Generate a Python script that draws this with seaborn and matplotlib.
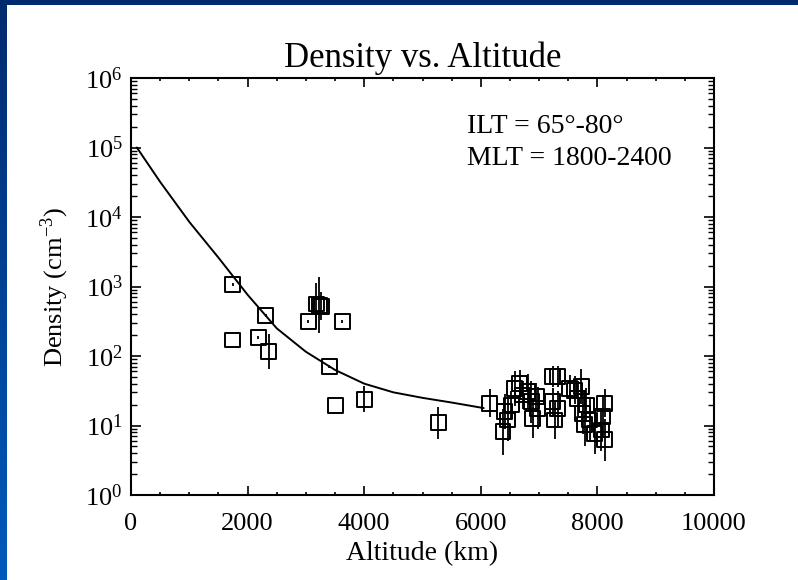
import numpy as np
import pandas as pd
import matplotlib
matplotlib.use("Agg")
import matplotlib.pyplot as plt
import seaborn as sns
from matplotlib.ticker import LogLocator, LogFormatterMathtext, MultipleLocator, NullFormatter

# ---------------- data ----------------
alt = [1742, 1742, 2182, 2313, 2365, 3038, 3180, 3227, 3260, 3621, 3398, 3513, 3998, 5270,
       6152, 6380, 6409, 6465, 6523, 6580, 6666, 6722, 6808, 6866, 6894, 6952, 6980,
       7237, 7322, 7237, 7265, 7322, 7522, 7608, 7665, 7722, 7751, 7779, 7808, 7865,
       7951, 8065, 8094, 8122, 8122]
density = [1080, 170, 186, 380, 115, 310, 560, 540, 520, 310, 70, 19.3, 24, 11,
           21, 8.1, 15.8, 12, 19.7, 34, 40, 27.5, 31, 22, 12.7, 26, 17.7,
           50, 50, 22, 12, 17.7, 34, 32, 24.6, 36, 15, 10.2, 19.7, 12,
           7.7, 8.6, 13.4, 21, 6.2]
err_dex = [0.02, 0.0, 0.02, 0.02, 0.25, 0.02, 0.3, 0.4, 0.2, 0.02, 0.02, 0.0, 0.19, 0.23,
           0.2, 0.33, 0.25, 0.3, 0.2, 0.25, 0.2, 0.2, 0.25, 0.3, 0.28, 0.2, 0.3,
           0.15, 0.15, 0.2, 0.28, 0.25, 0.2, 0.2, 0.25, 0.25, 0.3, 0.3, 0.25, 0.3,
           0.3, 0.3, 0.3, 0.2, 0.3]

curve_alt = [100, 500, 1000, 1500, 2000, 2500, 3000, 3500, 4000, 4500, 5000, 5500, 6050]
curve_density = [1.0e5, 3.2e4, 8.5e3, 2.6e3, 760, 250, 115, 63, 40, 30, 25, 21.4, 17.8]

title = "Density vs. Altitude"
xlabel = "Altitude (km)"
ylabel = "Density (cm$^{\\mathdefault{-3}}$)"
annot = ["ILT = 65\u00b0-80\u00b0", "MLT = 1800-2400"]

# ---------------- style ----------------
sns.set_style("ticks")
plt.rcParams["font.family"] = ["Liberation Serif", "DejaVu Serif"]
plt.rcParams["mathtext.fontset"] = "stix"
for k in ["text.color", "axes.labelcolor", "xtick.color", "ytick.color", "axes.edgecolor"]:
    plt.rcParams[k] = "black"

df = pd.DataFrame({"alt": alt, "density": density, "err": err_dex})
cdf = pd.DataFrame({"alt": curve_alt, "density": curve_density})

fig = plt.figure(figsize=(7.98, 5.80), dpi=100, facecolor="white")

# blue frame (top band + left gradient band)
W, H = 798, 580
top_ax = fig.add_axes([0, 1 - 5 / H, 1, 5 / H])
top_ax.set_axis_off()
top_ax.add_patch(plt.Rectangle((0, 0), 1, 1, color="#002a6e", transform=top_ax.transAxes))
left_ax = fig.add_axes([0, 0, 7 / W, 1])
grad = np.linspace(0, 1, 256).reshape(-1, 1)
top_c = np.array([0, 42, 110]) / 255
bot_c = np.array([0, 90, 188]) / 255
img = top_c[None, None, :] * (1 - grad[:, :, None]) + bot_c[None, None, :] * grad[:, :, None]
left_ax.imshow(img, aspect="auto", extent=[0, 1, 0, 1], origin="upper")
left_ax.set_axis_off()

ax = fig.add_axes([131 / W, 1 - 495 / H, (714 - 131) / W, (495 - 78) / H])

# error bars
lo = df["density"] * (1 - 10 ** (-df["err"]))
hi = df["density"] * (10 ** (df["err"]) - 1)
ax.errorbar(df["alt"], df["density"], yerr=[lo, hi], fmt="none", ecolor="black",
            elinewidth=1.3, capsize=0, zorder=2)

sns.scatterplot(data=df, x="alt", y="density", marker="s", s=115, facecolor="none",
                edgecolor="black", linewidth=1.4, ax=ax, zorder=3)
sns.lineplot(data=cdf, x="alt", y="density", color="black", linewidth=1.4, ax=ax, zorder=4)

ax.set_yscale("log")
ax.set_xlim(0, 10000)
ax.set_ylim(1, 1e6)

ax.xaxis.set_major_locator(MultipleLocator(2000))
ax.xaxis.set_minor_locator(MultipleLocator(500))
ax.yaxis.set_major_locator(LogLocator(base=10, numticks=10))
ax.yaxis.set_minor_locator(LogLocator(base=10, subs=np.arange(2, 10), numticks=10))
ax.yaxis.set_major_formatter(LogFormatterMathtext())
ax.yaxis.set_minor_formatter(NullFormatter())

ax.tick_params(axis="both", which="both", direction="in", top=True, right=True, colors="black")
ax.tick_params(axis="x", which="major", length=6.5, width=1.2, labelsize=19, pad=13)
ax.tick_params(axis="x", which="minor", length=2.5, width=1.2)
ax.tick_params(axis="y", which="major", length=7, width=1.2, labelsize=19, pad=6)
ax.tick_params(axis="y", which="minor", length=4, width=1.0)
for sp in ax.spines.values():
    sp.set_linewidth(1.5)
    sp.set_color("black")

ax.set_xlabel(xlabel, fontsize=20, labelpad=4)
ax.set_ylabel(ylabel, fontsize=19, labelpad=10)
ax.set_title(title, fontsize=25, pad=8)

ax.text(0.577, 0.868, annot[0], transform=ax.transAxes, fontsize=20, va="baseline", ha="left")
ax.text(0.577, 0.791, annot[1], transform=ax.transAxes, fontsize=20, va="baseline", ha="left")

fig.savefig("out.png", dpi=100, facecolor="white")
